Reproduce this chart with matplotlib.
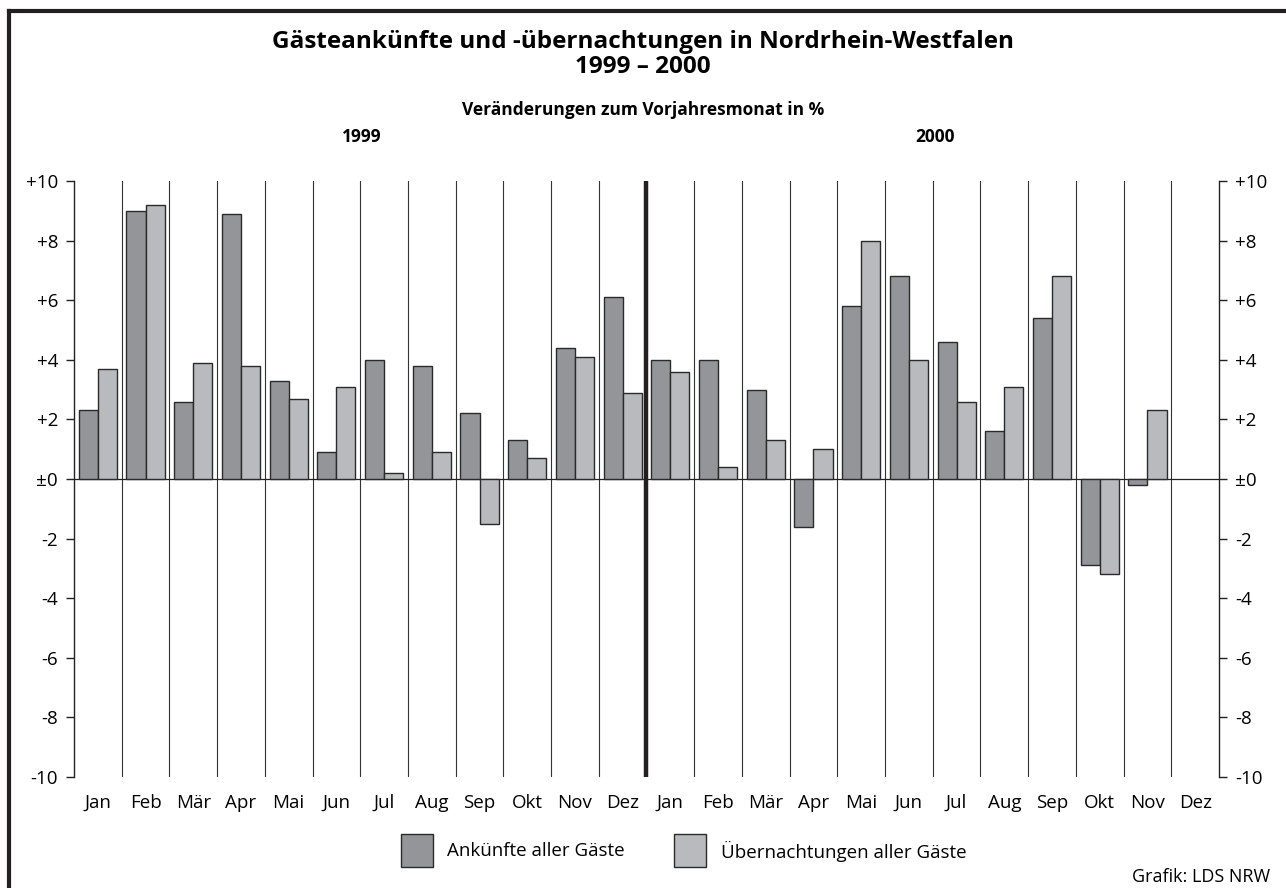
import matplotlib
matplotlib.use("Agg")
import matplotlib.pyplot as plt
from matplotlib.lines import Line2D
from matplotlib.patches import Rectangle
import numpy as np

plt.rcParams['font.family'] = ['Open Sans', 'DejaVu Sans']

# Data
months = ["Jan", "Feb", "Mär", "Apr", "Mai", "Jun", "Jul", "Aug", "Sep", "Okt", "Nov", "Dez"]
years = ["1999", "2000"]
ankuenfte_1999 = [2.3, 9.0, 2.6, 8.9, 3.3, 0.9, 4.0, 3.8, 2.2, 1.3, 4.4, 6.1]
uebern_1999 = [3.7, 9.2, 3.9, 3.8, 2.7, 3.1, 0.2, 0.9, -1.5, 0.7, 4.1, 2.9]
ankuenfte_2000 = [4.0, 4.0, 3.0, -1.6, 5.8, 6.8, 4.6, 1.6, 5.4, -2.9, -0.2, np.nan]
uebern_2000 = [3.6, 0.4, 1.3, 1.0, 8.0, 4.0, 2.6, 3.1, 6.8, -3.2, 2.3, np.nan]
y_ticks = [10, 8, 6, 4, 2, 0, -2, -4, -6, -8, -10]
y_labels = ["+10", "+8", "+6", "+4", "+2", "±0", "-2", "-4", "-6", "-8", "-10"]

DARK = "#949599"
LIGHT = "#b9babd"
EDGE = "#2a2a2a"

W, H = 1286, 888
fig = plt.figure(figsize=(W / 100, H / 100), dpi=100)
ax = fig.add_axes([74 / W, (H - 777) / H, (1219 - 74) / W, (777 - 181) / H])

ank = ankuenfte_1999 + ankuenfte_2000
ueb = uebern_1999 + uebern_2000
x = np.arange(len(ank))

ax.bar(x - 0.2, ank, width=0.4, color=DARK, edgecolor=EDGE, linewidth=1.0, zorder=3)
ax.bar(x + 0.2, ueb, width=0.4, color=LIGHT, edgecolor=EDGE, linewidth=1.0, zorder=3)

# month dividers, thick one between the years
for i in range(len(x) - 1):
    if i == 11:
        ax.axvline(i + 0.5, color="#231f20", linewidth=3.2, zorder=4)
    else:
        ax.axvline(i + 0.5, color="#333333", linewidth=0.8, zorder=1)
ax.axhline(0, color="#222222", linewidth=0.9, zorder=2)

ax.set_xlim(-0.5, len(x) - 0.5)
ax.set_ylim(-10, 10)
ax.set_yticks(y_ticks)
ax.set_yticklabels(y_labels)
ax.tick_params(axis="y", left=True, right=True, labelleft=True, labelright=True,
               direction="out", length=5.5, width=1.0, color="#222222",
               labelsize=13.5, pad=6)
ax.set_xticks(x)
ax.set_xticklabels(months * 2)
ax.tick_params(axis="x", length=0, labelsize=13.5, pad=12)

for side in ["top", "bottom"]:
    ax.spines[side].set_visible(False)
for side in ["left", "right"]:
    ax.spines[side].set_linewidth(1.0)
    ax.spines[side].set_color("#222222")

# titles
fig.text(0.5, 1 - 42 / H, "Gästeankünfte und -übernachtungen in Nordrhein-Westfalen",
         ha="center", va="center", fontsize=17.5, fontweight="bold")
fig.text(0.5, 1 - 67 / H, "1999 – 2000", ha="center", va="center",
         fontsize=17.5, fontweight="bold")
fig.text(0.5, 1 - 110 / H, "Veränderungen zum Vorjahresmonat in %", ha="center",
         va="center", fontsize=12.5, fontweight="bold")
fig.text(362 / W, 1 - 137 / H, years[0], ha="center", va="center", fontsize=12.5, fontweight="bold")
fig.text(935 / W, 1 - 137 / H, years[1], ha="center", va="center", fontsize=12.5, fontweight="bold")

# legend
fig.add_artist(Rectangle((401 / W, 1 - 867 / H), 32 / W, 33 / H, transform=fig.transFigure,
                         facecolor=DARK, edgecolor=EDGE, linewidth=1.0))
fig.text(447 / W, 1 - 851 / H, "Ankünfte aller Gäste", ha="left", va="center", fontsize=13.5)
fig.add_artist(Rectangle((674 / W, 1 - 867 / H), 32 / W, 33 / H, transform=fig.transFigure,
                         facecolor=LIGHT, edgecolor=EDGE, linewidth=1.0))
fig.text(721 / W, 1 - 851 / H, "Übernachtungen aller Gäste", ha="left", va="center", fontsize=13.5)

fig.text(1270 / W, 1 - 877 / H, "Grafik: LDS NRW", ha="right", va="center", fontsize=13)

# frame (top and left)
fig.add_artist(Line2D([9 / W, 1], [1 - 11 / H, 1 - 11 / H], transform=fig.transFigure,
                      color="#231f20", linewidth=3))
fig.add_artist(Line2D([9 / W, 9 / W], [0, 1 - 11 / H], transform=fig.transFigure,
                      color="#231f20", linewidth=3))

fig.savefig("out.png", dpi=100)
